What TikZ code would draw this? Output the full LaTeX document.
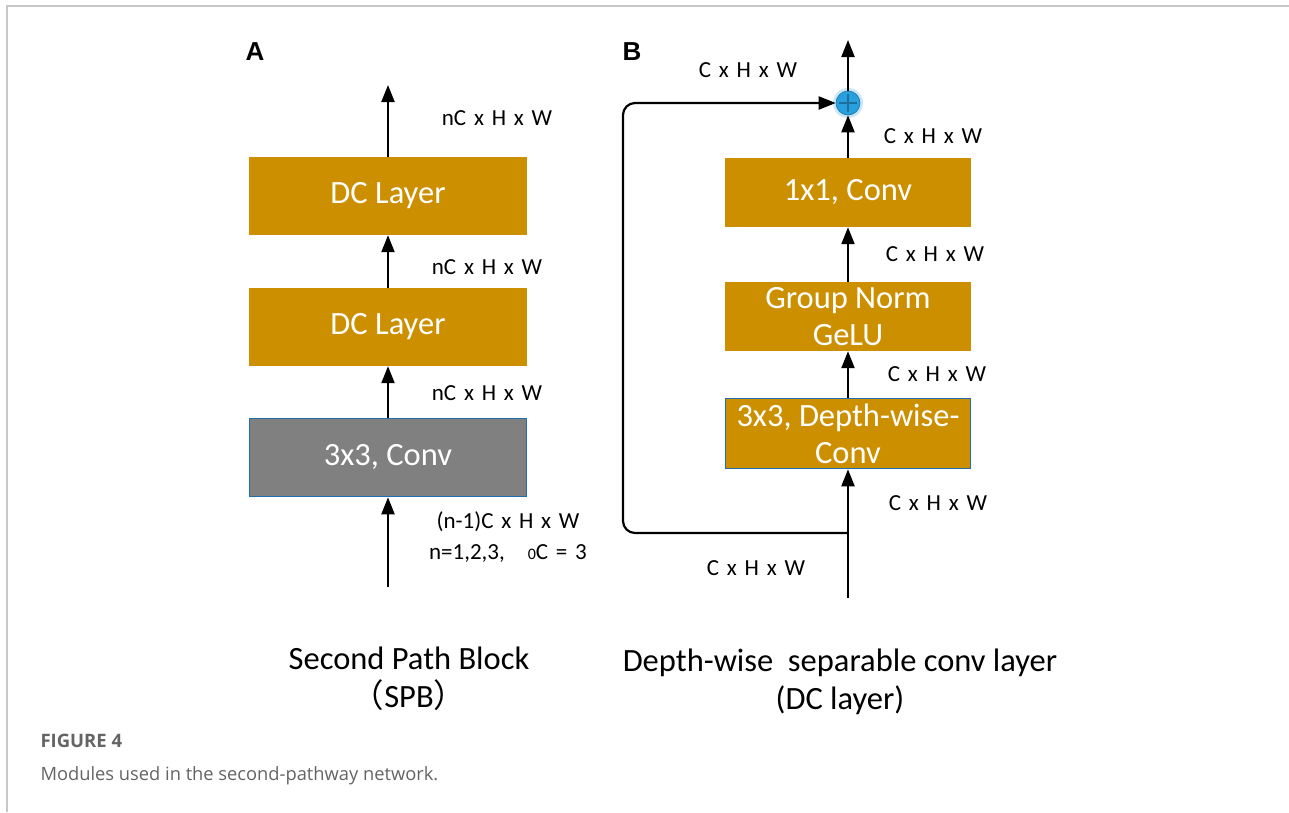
\documentclass[tikz,border=0pt]{standalone}
\usepackage{fontspec}
\setmainfont{Carlito}
\newfontfamily\dimfont{Carlito}[WordSpace=1.5]
\newfontfamily\labelfont{Liberation Sans}
\newfontfamily\capfont{Open Sans}
\newfontfamily\cjk{Noto Sans CJK SC}
\usetikzlibrary{arrows.meta}
\definecolor{gold}{RGB}{204,143,0}
\definecolor{convgray}{RGB}{128,128,128}
\definecolor{edgeblue}{RGB}{31,111,176}
\definecolor{plusblue}{RGB}{40,160,222}
\definecolor{framegray}{RGB}{200,200,200}
\definecolor{captiongray}{RGB}{100,100,100}
\tikzset{
  layerbox/.style={fill=gold, draw=none, text=white, align=center,
    font=\fontsize{32.5}{37}\selectfont, inner sep=0pt},
  edgedbox/.style={layerbox, draw=edgeblue, line width=1.6pt},
  flow/.style={line width=2.2pt, -{Triangle[length=17pt,width=13pt]}},
  dimlabel/.style={font=\dimfont\fontsize{23}{24}\selectfont, anchor=center},
  paneltag/.style={font=\labelfont\bfseries\fontsize{26}{26}\selectfont},
  titletext/.style={font=\fontsize{32.5}{38}\selectfont, align=center},
}
\begin{document}
\begin{tikzpicture}[x=1pt,y=-1pt]
\useasboundingbox (0,0) rectangle (1289,812);
\fill[white] (0,0) rectangle (1289,812);
% page frame
\draw[framegray, line width=1.5pt] (7,812) -- (7,6) -- (1289,6);

% ---------- panel A: second path block ----------
\node[paneltag] (tagA) at (255,52) {A};
\node[layerbox, minimum width=278pt, minimum height=78pt] (dc1) at (388,196) {DC Layer};
\node[layerbox, minimum width=278pt, minimum height=78pt] (dc2) at (388,327) {DC Layer};
\node[edgedbox, fill=convgray, minimum width=277pt, minimum height=78pt] (c3) at (388,457.5) {3x3, Conv};
\coordinate (inA) at (388,587);
\coordinate (outA) at (388,85);
\draw[flow] (inA) -- (c3.south);
\draw[flow] (c3.north) -- (dc2.south);
\draw[flow] (dc2.north) -- (dc1.south);
\draw[flow] (dc1.north) -- (outA);
\node[dimlabel] (la1) at (497,118) {nC x H x W};
\node[dimlabel] (la2) at (487,267) {nC x H x W};
\node[dimlabel] (la3) at (487,393) {nC x H x W};
\node[dimlabel] (la4) at (508,522) {(n-1)C x H x W};
\node[dimlabel] (la5) at (508,553) {n=1,2,3,\quad{\fontsize{16}{16}\selectfont 0}C = 3};
\node[titletext] (titleA) at (409,679) {Second Path Block\\{\cjk（}SPB{\cjk）}};

% ---------- panel B: depth-wise separable conv layer ----------
\node[paneltag] (tagB) at (632,52) {B};
\node[layerbox, minimum width=246pt, minimum height=69pt] (pw) at (848,192.5) {1x1, Conv};
\node[layerbox, minimum width=246pt, minimum height=69pt] (gn) at (848,316.5) {Group Norm\\GeLU};
\node[edgedbox, minimum width=245pt, minimum height=70pt] (dw) at (848,433.5) {3x3, Depth-wise-\\Conv};
\fill[plusblue!25] (848,103) circle (15pt);
\node[circle, fill=plusblue, draw=plusblue!70!black, line width=0.6pt,
      minimum size=24pt, inner sep=0pt,
      path picture={\draw[line width=2.6pt]
        ([xshift=-9pt]path picture bounding box.center) -- ([xshift=9pt]path picture bounding box.center)
        ([yshift=-9pt]path picture bounding box.center) -- ([yshift=9pt]path picture bounding box.center);}
     ] (plus) at (848,103) {};
\coordinate (inB) at (848,598);
\coordinate (outB) at (848,40);
\coordinate (split) at (848,533);
\coordinate (skiptop) at (623,103);
\draw[line width=2.2pt] (inB) -- (split);
\draw[flow] (split) -- (dw.south);
\draw[flow] (dw.north) -- (gn.south);
\draw[flow] (gn.north) -- (pw.south);
\draw[flow] (pw.north) -- (plus.south);
\draw[flow] (plus.north) -- (outB);
\draw[flow, rounded corners=12pt] (split) -| (skiptop) -- (plus.west);
\node[dimlabel] (lb1) at (748,70) {C x H x W};
\node[dimlabel] (lb2) at (933,136) {C x H x W};
\node[dimlabel] (lb3) at (935,254) {C x H x W};
\node[dimlabel] (lb4) at (937,374) {C x H x W};
\node[dimlabel] (lb5) at (938,503) {C x H x W};
\node[dimlabel] (lb6) at (756,568) {C x H x W};
\node[titletext] (titleB) at (840,682) {Depth-wise\ \ separable conv layer\\(DC layer)};

% ---------- caption ----------
\node[anchor=west, text=captiongray, font=\capfont\bfseries\fontsize{18.5}{19}\selectfont] (figno) at (37,741) {FIGURE 4};
\node[anchor=west, text=captiongray, font=\capfont\fontsize{18.3}{19}\selectfont] (caption) at (37,776) {Modules used in the second-pathway network.};
\end{tikzpicture}
\end{document}
